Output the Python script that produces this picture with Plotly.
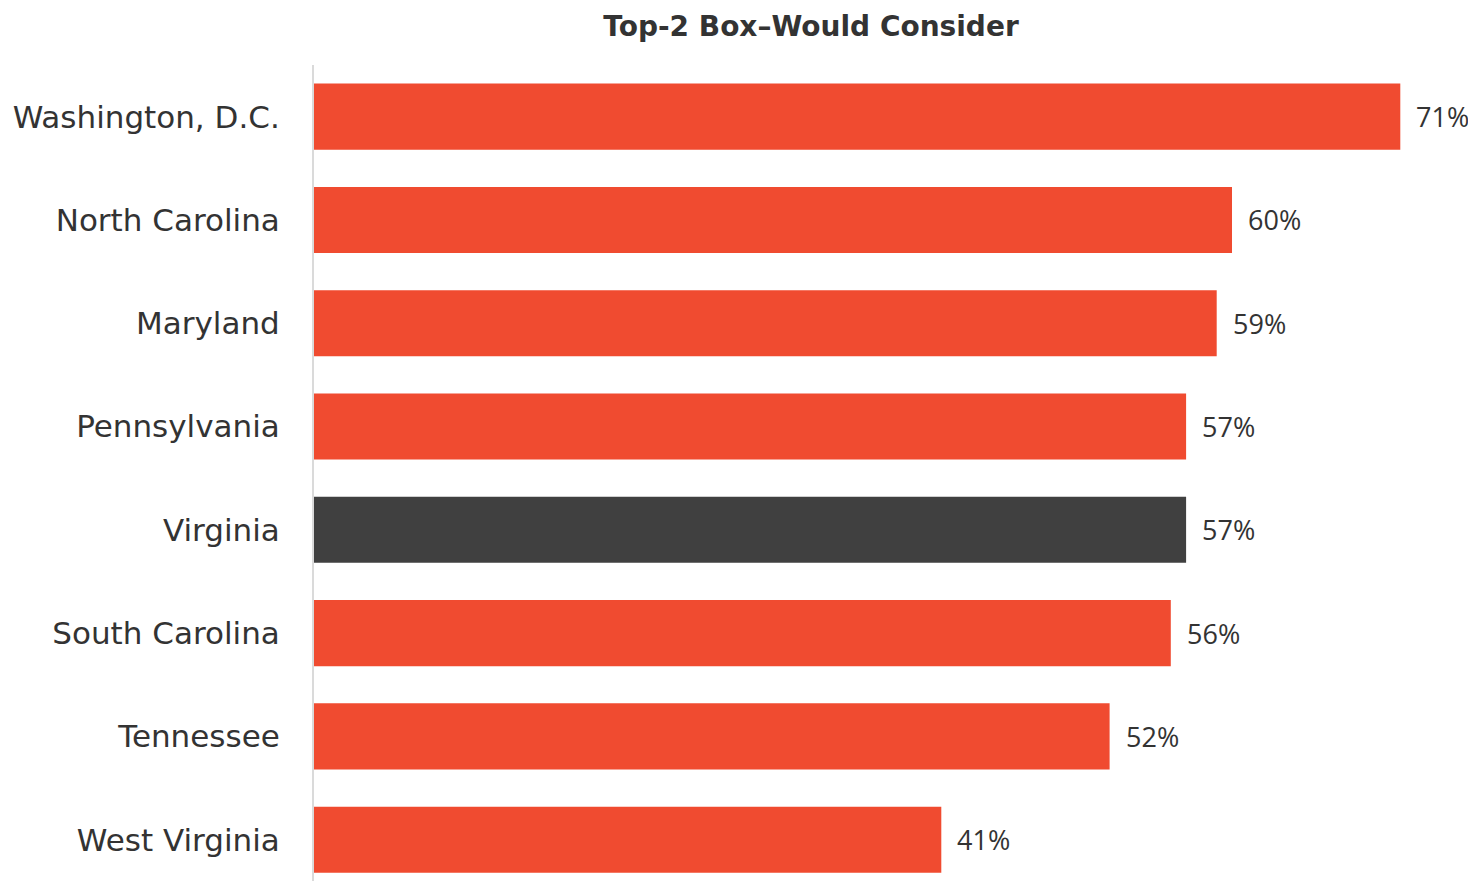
import plotly.graph_objects as go

categories = ["Washington, D.C.", "North Carolina", "Maryland", "Pennsylvania",
              "Virginia", "South Carolina", "Tennessee", "West Virginia"]
values = [71, 60, 59, 57, 57, 56, 52, 41]
labels = ["71%", "60%", "59%", "57%", "57%", "56%", "52%", "41%"]
highlight = "Virginia"

RED = "#F04B30"
DARK = "#404040"
FONT = "Open Sans"
WIDE = "DejaVu Sans"
colors = [DARK if c == highlight else RED for c in categories]

fig = go.Figure(go.Bar(
    x=values, y=categories, orientation="h",
    marker=dict(color=colors, line=dict(width=0)),
    width=0.64,
    hoverinfo="skip",
))

for c, v, t in zip(categories, values, labels):
    fig.add_annotation(x=v, y=c, text=t, showarrow=False, xanchor="left",
                       xshift=14, font=dict(family=FONT, size=27, color="#333333"))

W, H = 1468, 873
fig.update_layout(
    width=W, height=H,
    margin=dict(l=306, r=0, t=57, b=0),
    plot_bgcolor="white", paper_bgcolor="white",
    showlegend=False,
    title=dict(text="<b>Top-2 Box\u2013Would Consider</b>", xref="container", x=803/W,
               xanchor="center", y=1 - 18/H, yanchor="middle",
               font=dict(family=WIDE, size=28, color="#333333")),
    font=dict(family=FONT, color="#333333"),
)
fig.update_xaxes(range=[0, 1162/15.3], visible=False, showgrid=False)
fig.update_yaxes(categoryorder="array", categoryarray=categories,
                 range=[7.4, -0.5], showline=True, linecolor="#DADADA", linewidth=2,
                 showgrid=False, ticks="", ticklabelstandoff=26,
                 tickfont=dict(family=WIDE, size=31, color="#333333"))

fig.write_html("out.html")
